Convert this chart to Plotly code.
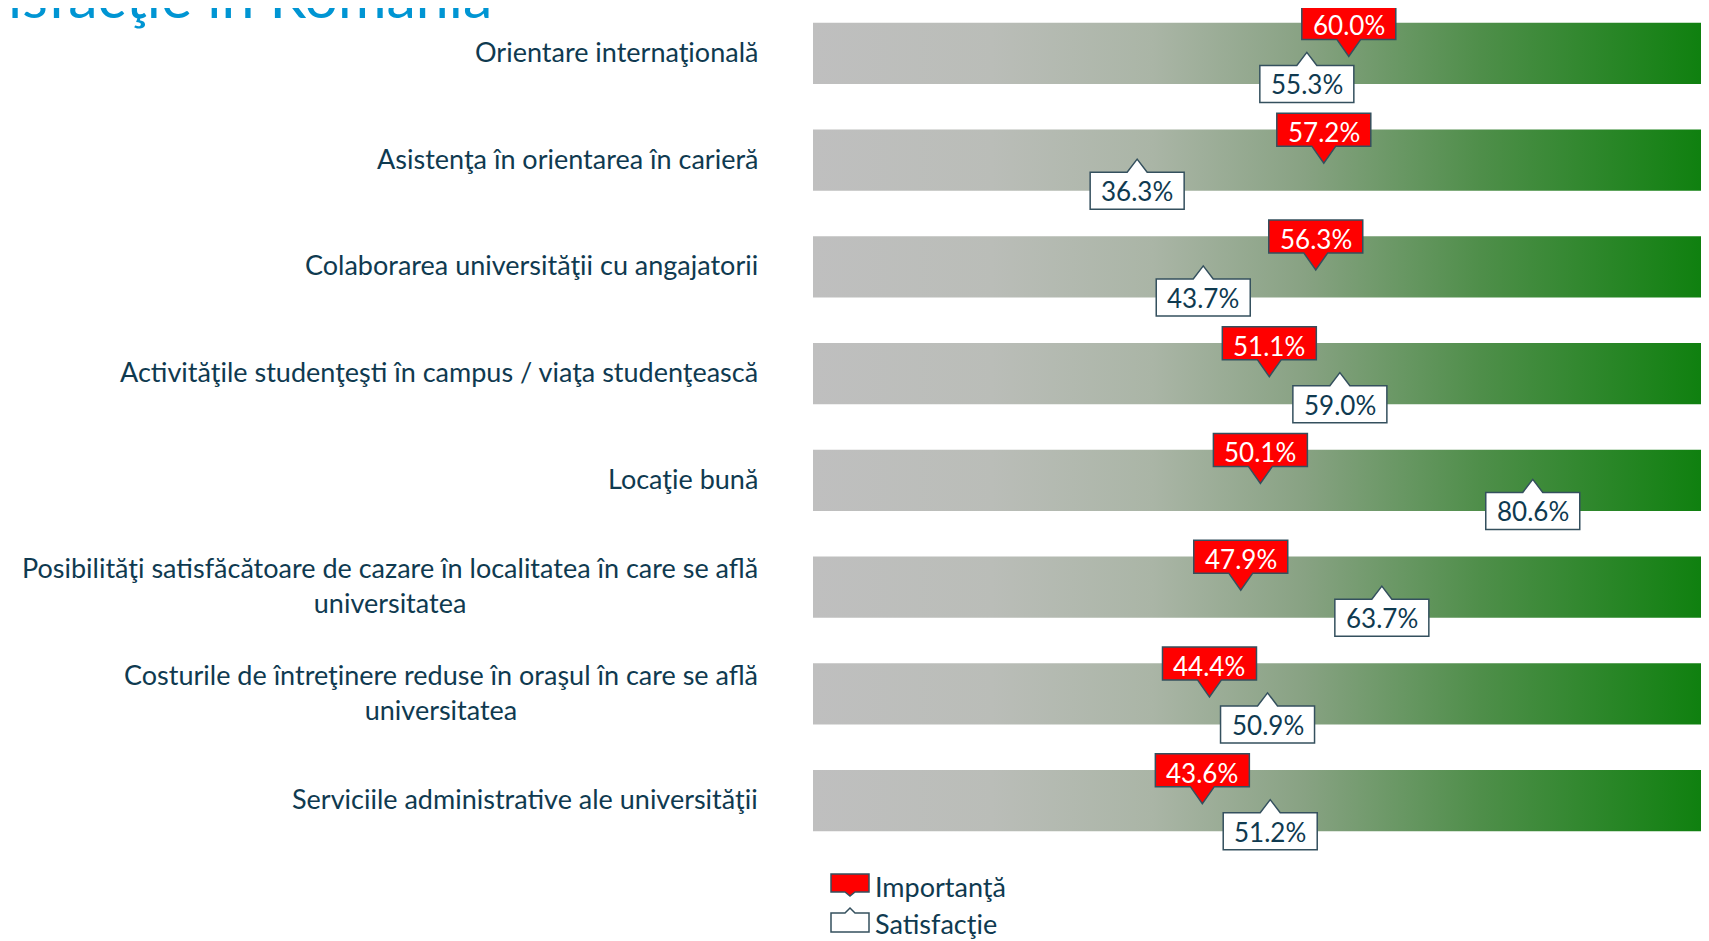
import plotly.graph_objects as go

# ---------------- data ----------------
categories = [
    "Orientare internaţională",
    "Asistenţa în orientarea în carieră",
    "Colaborarea universităţii cu angajatorii",
    "Activităţile studenţeşti în campus / viaţa studenţească",
    "Locaţie bună",
    "Posibilităţi satisfăcătoare de cazare în localitatea în care se află<br>universitatea",
    "Costurile de întreţinere reduse în oraşul în care se află<br>universitatea",
    "Serviciile administrative ale universităţii",
]
importanta = [60.0, 57.2, 56.3, 51.1, 50.1, 47.9, 44.4, 43.6]
satisfactie = [55.3, 36.3, 43.7, 59.0, 80.6, 63.7, 50.9, 51.2]
legend_names = ["Importanţă", "Satisfacţie"]
title_text = "isfacţie în România"
axis_min, axis_max = 0, 100

# ---------------- layout constants ----------------
OFF = 8                      # page body margin
W, H = 1701, 933
PLOT_L, PLOT_R, PLOT_T, PLOT_B = 805, 3, 0, 87
PLOT_W = W - PLOT_L - PLOT_R
PLOT_H = H - PLOT_T - PLOT_B
ROW_PX = 106.75
Y_TOP = -0.5 + OFF / ROW_PX
Y_BOT = Y_TOP + PLOT_H / ROW_PX
BAR_HALF = 0.286
FONT = "Lato, 'Open Sans', sans-serif"
TEXT_COL = "#0f3a50"
BORDER_COL = "#34505e"


def paper_x(sx):
    """screen x -> paper x"""
    return (sx - OFF - PLOT_L) / PLOT_W


def paper_y(sy):
    """screen y -> paper y"""
    return (PLOT_T + PLOT_H - (sy - OFF)) / PLOT_H


gradient = [
    [0.0, "#BFBFBF"],
    [0.2, "#BABDB8"],
    [0.38, "#AAB5A6"],
    [0.55, "#88A283"],
    [0.75, "#4E8E49"],
    [1.0, "#0E800E"],
]

fig = go.Figure()

for i, _ in enumerate(categories):
    xs = [axis_min, axis_max, axis_max, axis_min, axis_min]
    ys = [i - BAR_HALF, i - BAR_HALF, i + BAR_HALF, i + BAR_HALF, i - BAR_HALF]
    fig.add_trace(go.Scatter(
        x=xs, y=ys, mode="lines", fill="toself",
        line=dict(width=0, color="rgba(0,0,0,0)"),
        fillgradient=dict(type="horizontal", colorscale=gradient,
                          start=axis_min, stop=axis_max),
        hoverinfo="skip", showlegend=False,
    ))

red_path = "M -47,14 L -12,14 L 0,-3 L 12,14 L 47,14 L 47,47 L -47,47 Z"
white_path = "M -47,-12 L -10,-12 L 0,1 L 10,-12 L 47,-12 L 47,-49 L -47,-49 Z"

shapes = []
annotations = []

for i, (cat, imp, sat) in enumerate(zip(categories, importanta, satisfactie)):
    annotations.append(dict(
        x=axis_min, y=i, xref="x", yref="y", text=cat, showarrow=False,
        xanchor="right", yanchor="middle", xshift=-53, yshift=2, align="center",
        font=dict(family=FONT, size=27, color=TEXT_COL),
    ))
    shapes.append(dict(
        type="path", xref="x", yref="y", xsizemode="pixel", ysizemode="pixel",
        xanchor=sat, yanchor=i, path=white_path,
        fillcolor="white", line=dict(color=BORDER_COL, width=1.5), layer="above",
    ))
    annotations.append(dict(
        x=sat, y=i, xref="x", yref="y", text=f"{sat:.1f}%", showarrow=False,
        xanchor="center", yanchor="middle", yshift=-31,
        font=dict(family=FONT, size=26, color=TEXT_COL),
    ))
    shapes.append(dict(
        type="path", xref="x", yref="y", xsizemode="pixel", ysizemode="pixel",
        xanchor=imp, yanchor=i, path=red_path,
        fillcolor="#FF0000", line=dict(color=BORDER_COL, width=1.5), layer="above",
    ))
    annotations.append(dict(
        x=imp, y=i, xref="x", yref="y", text=f"{imp:.1f}%", showarrow=False,
        xanchor="center", yanchor="middle", yshift=28,
        font=dict(family=FONT, size=26, color="white"),
    ))

# legend icons
shapes.append(dict(
    type="path", xref="paper", yref="paper", xsizemode="pixel", ysizemode="pixel",
    xanchor=paper_x(850), yanchor=paper_y(874),
    path="M -19,0 L 19,0 L 19,-18 L 5,-18 L 0,-22 L -5,-18 L -19,-18 Z",
    fillcolor="#FF0000", line=dict(color=BORDER_COL, width=1.5),
))
shapes.append(dict(
    type="path", xref="paper", yref="paper", xsizemode="pixel", ysizemode="pixel",
    xanchor=paper_x(850), yanchor=paper_y(932),
    path="M -19,0 L 19,0 L 19,19 L 5,19 L 0,24 L -5,19 L -19,19 Z",
    fillcolor="white", line=dict(color=BORDER_COL, width=1.5),
))
for name, sy in zip(legend_names, [886, 923]):
    annotations.append(dict(
        x=paper_x(874), y=paper_y(sy), xref="paper", yref="paper", text=name,
        showarrow=False, xanchor="left", yanchor="middle", borderpad=0,
        font=dict(family=FONT, size=27, color=TEXT_COL),
    ))

# cut-off title at top-left (as in the reference)
annotations.append(dict(
    x=paper_x(6), y=paper_y(33), xref="paper", yref="paper", text=title_text,
    showarrow=False, xanchor="left", yanchor="bottom",
    font=dict(family=FONT, size=59, color="#0095D3"),
))

fig.update_layout(
    width=W, height=H,
    margin=dict(l=PLOT_L, r=PLOT_R, t=PLOT_T, b=PLOT_B, pad=0),
    paper_bgcolor="white", plot_bgcolor="white",
    xaxis=dict(range=[axis_min, axis_max], visible=False, fixedrange=True),
    yaxis=dict(range=[Y_BOT, Y_TOP], visible=False, fixedrange=True),
    shapes=shapes, annotations=annotations, showlegend=False,
)

fig.write_html("out.html")
